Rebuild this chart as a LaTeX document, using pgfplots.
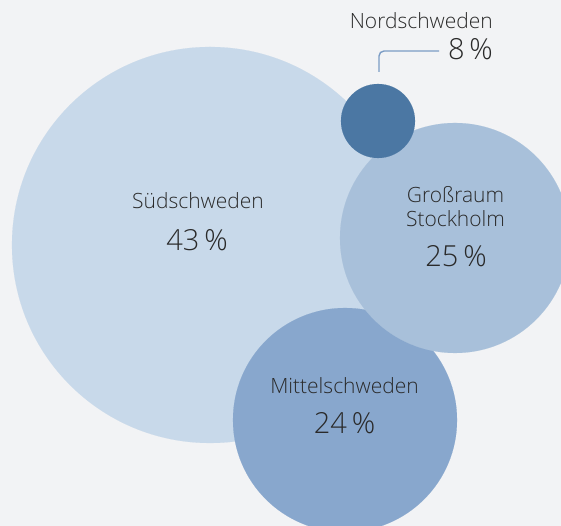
\documentclass[border=0pt]{standalone}
\usepackage{fontspec}
\setmainfont{Open Sans}
\newfontfamily\lightfont{Open Sans Light}
\usepackage{pgfplots}
\pgfplotsset{compat=1.18}
\definecolor{bg}{HTML}{F2F3F5}
\definecolor{sued}{HTML}{C8D9EA}
\definecolor{sthlm}{HTML}{A8C0DA}
\definecolor{mittel}{HTML}{88A7CD}
\definecolor{nord}{HTML}{4B77A3}
\definecolor{leader}{HTML}{7B9CC5}
\definecolor{txt}{HTML}{2A2A2A}
\newcommand{\lab}{\lightfont\fontsize{21}{24}\selectfont}
\newcommand{\pct}{\lightfont\fontsize{29}{32}\selectfont}
\begin{document}
\begin{tikzpicture}
\begin{axis}[
  x=1pt, y=1pt,
  xmin=0, xmax=561, ymin=0, ymax=526,
  at={(0,0)}, anchor=origin,
  hide axis,
  clip=true,
  clip marker paths=true,
]
\fill[bg] (axis cs:0,0) rectangle (axis cs:561,526);
% Südschweden
\addplot[only marks, mark=*, mark size=198pt, color=sued, mark options={draw=sued, fill=sued, line width=0.1pt}] coordinates {(210,281)};
% Mittelschweden
\addplot[only marks, mark=*, mark size=112pt, color=mittel, mark options={draw=mittel, fill=mittel, line width=0.1pt}] coordinates {(345,106)};
% Großraum Stockholm
\addplot[only marks, mark=*, mark size=115pt, color=sthlm, mark options={draw=sthlm, fill=sthlm, line width=0.1pt}] coordinates {(455,288)};
% Nordschweden
\addplot[only marks, mark=*, mark size=37pt, color=nord, mark options={draw=nord, fill=nord, line width=0.1pt}] coordinates {(378,405)};
% leader line
\draw[leader, line width=1.4pt, rounded corners=5pt] (axis cs:379,454) -- (axis cs:379,475) -- (axis cs:439,475);
% labels
\node[txt, anchor=base east, inner sep=0pt] at (axis cs:493,497) {\lab Nordschweden};
\node[txt, anchor=base east, inner sep=0pt] at (axis cs:493,466) {\pct 8\,\%};
\node[txt, anchor=base, inner sep=0pt] at (axis cs:198,317) {\lab Südschweden};
\node[txt, anchor=base, inner sep=0pt] at (axis cs:197,275) {\pct 43\,\%};
\node[txt, anchor=base, inner sep=0pt] at (axis cs:455.5,323) {\lab Großraum};
\node[txt, anchor=base, inner sep=0pt] at (axis cs:455.5,299) {\lab Stockholm};
\node[txt, anchor=base, inner sep=0pt] at (axis cs:456,259) {\pct 25\,\%};
\node[txt, anchor=base, inner sep=0pt] at (axis cs:344.5,132) {\lab Mittelschweden};
\node[txt, anchor=base, inner sep=0pt] at (axis cs:344.5,92) {\pct 24\,\%};
\end{axis}
\pgfresetboundingbox
\useasboundingbox (0,0) rectangle (561pt,526pt);
\end{tikzpicture}
\end{document}
